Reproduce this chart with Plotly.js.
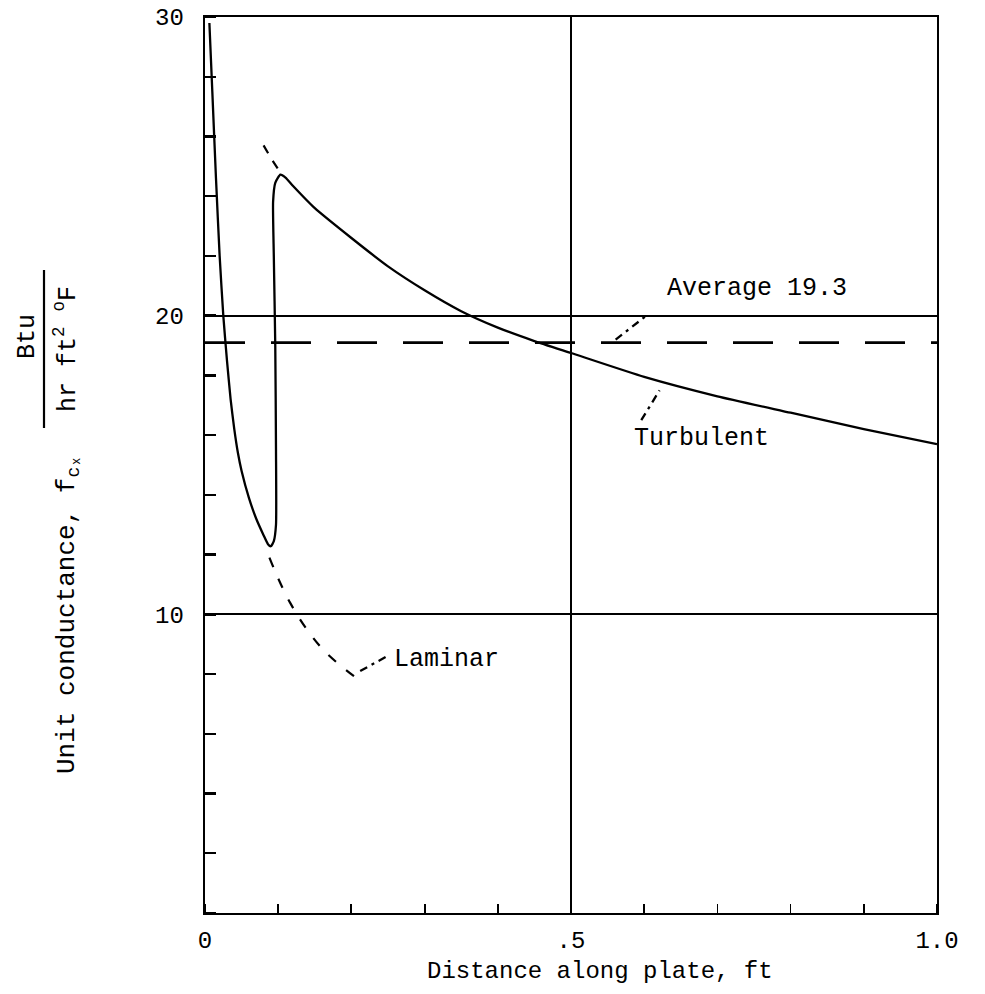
<!DOCTYPE html>
<html>
<head>
<meta charset="utf-8">
<script src="https://cdn.plot.ly/plotly-3.0.1.min.js"></script>
<style>html,body{margin:0;padding:0;background:#fff;}#chart{width:985px;height:994px;}</style>
</head>
<body>
<div id="chart"></div>
<script>
// Solid curve: laminar drop, transition, turbulent decay (ft, Btu/hr ft2 F)
const mainX = [0.006, 0.010, 0.015, 0.020, 0.025, 0.030, 0.035, 0.040, 0.045, 0.050, 0.060, 0.070, 0.080, 0.086, 0.090, 0.094, 0.097, 0.097, 0.096, 0.094, 0.093, 0.096, 0.103, 0.110, 0.120, 0.150, 0.200, 0.250, 0.300, 0.350, 0.400, 0.450, 0.500, 0.600, 0.700, 0.800, 0.900, 1.000];
const mainY = [29.8, 27.5, 24.6, 22.0, 20.0, 18.5, 17.2, 16.2, 15.4, 14.8, 13.9, 13.2, 12.65, 12.35, 12.28, 12.45, 13.0, 15.5, 19.0, 22.0, 23.8, 24.45, 24.72, 24.62, 24.35, 23.6, 22.6, 21.65, 20.85, 20.15, 19.6, 19.15, 18.75, 17.95, 17.3, 16.75, 16.2, 15.7];
// Dashed extension of turbulent curve upstream of transition
const turbExtX = [0.080, 0.092, 0.104];
const turbExtY = [25.7, 25.2, 24.75];
// Dashed laminar continuation
const lamX = [0.088, 0.100, 0.116, 0.139, 0.166, 0.205];
const lamY = [11.9, 11.2, 10.4, 9.5, 8.7, 7.9];
// Average line
const avgX = [0, 1];
const avgY = [19.1, 19.1];
// Leader lines for labels
const leadAvgX = [0.561, 0.603];
const leadAvgY = [19.2, 20.0];
const leadTurbX = [0.596, 0.621];
const leadTurbY = [16.5, 17.5];
const leadLamX = [0.212, 0.249];
const leadLamY = [8.1, 8.6];
// Tick labels
const xTickVals = [0, 0.5, 1.0];
const xTickText = ['0', '.5', '1.0'];
const yTickVals = [10, 20, 30];
const yTickText = ['10', '20', '30'];

const FONT = 'Liberation Mono, Courier New, monospace';
const black = '#000';

const traces = [
  {x: mainX, y: mainY, mode: 'lines', line: {color: black, width: 2.3, shape: 'spline', smoothing: 0.5}, hoverinfo: 'skip'},
  {x: turbExtX, y: turbExtY, mode: 'lines', line: {color: black, width: 2.2, dash: '9px,9px'}, hoverinfo: 'skip'},
  {x: lamX, y: lamY, mode: 'lines', line: {color: black, width: 2.2, dash: '10px,13px', shape: 'spline'}, hoverinfo: 'skip'},
  {x: avgX, y: avgY, mode: 'lines', line: {color: black, width: 2.8, dash: '40px,26px'}, hoverinfo: 'skip'},
  {x: leadAvgX, y: leadAvgY, mode: 'lines', line: {color: black, width: 2.3, dash: '8px,5px,3px,5px'}, hoverinfo: 'skip'},
  {x: leadTurbX, y: leadTurbY, mode: 'lines', line: {color: black, width: 2.3, dash: '8px,5px,3px,5px'}, hoverinfo: 'skip'},
  {x: leadLamX, y: leadLamY, mode: 'lines', line: {color: black, width: 2.3, dash: '8px,5px,3px,5px'}, hoverinfo: 'skip'}
];

const PL = 205, PW = 732, PT = 17, PH = 896;
const px = v => (v - PL) / PW;
const py = v => (PT + PH - v) / PH;

const layout = {
  width: 985, height: 994,
  margin: {l: PL, r: 985 - PL - PW, t: PT, b: 994 - PT - PH, pad: 0},
  paper_bgcolor: '#fff', plot_bgcolor: '#fff',
  showlegend: false,
  font: {family: FONT, color: black, size: 24},
  xaxis: {
    range: [0, 1], tickvals: xTickVals, ticktext: xTickText, ticks: '',
    showgrid: true, gridcolor: black, gridwidth: 2,
    showline: true, linecolor: black, linewidth: 2.4, mirror: true, zeroline: false,
    tickfont: {family: FONT, size: 24, color: black}, ticklabelstandoff: 4,
    minor: {dtick: 0.1, ticks: 'inside', ticklen: 9, tickwidth: 1.8, tickcolor: black, showgrid: false},
    fixedrange: true
  },
  yaxis: {
    range: [0, 30], tickvals: yTickVals, ticktext: yTickText, ticks: '',
    showgrid: true, gridcolor: black, gridwidth: 2,
    showline: true, linecolor: black, linewidth: 2.4, mirror: true, zeroline: false,
    tickfont: {family: FONT, size: 24, color: black}, ticklabelstandoff: 14,
    minor: {dtick: 2, ticks: 'inside', ticklen: 11, tickwidth: 2.4, tickcolor: black, showgrid: false},
    fixedrange: true
  },
  annotations: [
    {x: 0.628, y: 20.9, xref: 'x', yref: 'y', text: 'Average 19.3', showarrow: false, xanchor: 'left', yanchor: 'middle', font: {family: FONT, size: 25, color: black}},
    {x: 0.678, y: 15.9, xref: 'x', yref: 'y', text: 'Turbulent', showarrow: false, xanchor: 'center', yanchor: 'middle', font: {family: FONT, size: 25, color: black}},
    {x: 0.256, y: 8.5, xref: 'x', yref: 'y', text: 'Laminar', showarrow: false, xanchor: 'left', yanchor: 'middle', font: {family: FONT, size: 25, color: black}},
    {x: px(600), y: py(971), xref: 'paper', yref: 'paper', text: 'Distance along plate, ft', showarrow: false, xanchor: 'center', yanchor: 'middle', font: {family: FONT, size: 24, color: black}},
    {x: px(68), y: py(615), xref: 'paper', yref: 'paper', text: 'Unit conductance, f<sub>c\u2093</sub>', textangle: -90, showarrow: false, xanchor: 'center', yanchor: 'middle', font: {family: FONT, size: 26, color: black}},
    {x: px(28), y: py(337), xref: 'paper', yref: 'paper', text: 'Btu', textangle: -90, showarrow: false, xanchor: 'center', yanchor: 'middle', font: {family: FONT, size: 25, color: black}},
    {x: px(66), y: py(349), xref: 'paper', yref: 'paper', text: 'hr ft<sup>2</sup> <sup>o</sup>F', textangle: -90, showarrow: false, xanchor: 'center', yanchor: 'middle', font: {family: FONT, size: 25, color: black}}
  ],
  shapes: [
    {type: 'line', xref: 'paper', yref: 'paper', x0: px(44), x1: px(44), y0: py(270), y1: py(428), line: {color: black, width: 2.2}}
  ]
};

Plotly.newPlot('chart', traces, layout, {staticPlot: true, displayModeBar: false});
</script>
</body>
</html>
